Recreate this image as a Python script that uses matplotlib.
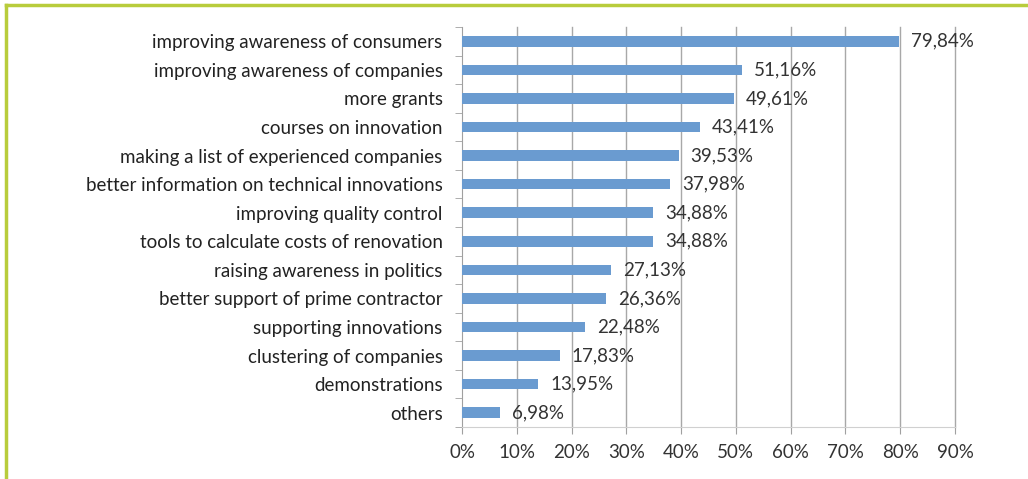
import numpy as np
import matplotlib
matplotlib.use('Agg')
import matplotlib.pyplot as plt

categorias = ['improving awareness of consumers', 'improving awareness of companies',
              'more grants', 'courses on innovation', 'making a list of experienced companies',
              'better information on technical innovations', 'improving quality control',
              'tools to calculate costs of renovation', 'raising awareness in politics',
              'better support of prime contractor', 'supporting innovations',
              'clustering of companies', 'demonstrations', 'others']
valores = [79.84, 51.16, 49.61, 43.41, 39.53, 37.98, 34.88, 34.88, 27.13, 26.36,
           22.48, 17.83, 13.95, 6.98]
ticks_x = [0, 10, 20, 30, 40, 50, 60, 70, 80, 90]

plt.rcParams['font.family'] = ['Lato', 'DejaVu Sans']
fs = 13.5

fig = plt.figure(figsize=(10.28, 4.79), dpi=100)
ax = fig.add_axes([462 / 1028, 1 - 427 / 479, (955 - 462) / 1028, (427 - 27) / 479])

y = np.arange(len(categorias))[::-1]
ax.barh(y, valores, height=0.37, color='#6a9bd0', zorder=3)
for yi, v in zip(y, valores):
    ax.text(v + 2.2, yi, '{:.2f}%'.format(v).replace('.', ','), va='center', ha='left',
            fontsize=fs, color='#333333', zorder=4)

ax.set_xlim(0, 90)
ax.set_ylim(-0.5, len(categorias) - 0.5)
ax.set_xticks(ticks_x)
ax.set_xticklabels(['{}%'.format(t) for t in ticks_x], fontsize=fs, color='#333333')
ax.set_yticks(y)
ax.set_yticklabels(categorias, fontsize=fs, color='#222222')
ax.set_yticks(np.arange(len(categorias) + 1) - 0.5, minor=True)
ax.tick_params(axis='y', which='major', length=0, pad=14)
ax.tick_params(axis='y', which='minor', length=5, color='#a0a0a0')
ax.tick_params(axis='x', length=5, color='#a0a0a0', pad=7)
for t in ticks_x[1:]:
    ax.axvline(t, color='#a8a8a8', linewidth=1, zorder=0, clip_on=False)
for s in ['top', 'right']:
    ax.spines[s].set_visible(False)
ax.spines['left'].set_color('#a0a0a0')
ax.spines['bottom'].set_color('#d0d0d0')

# marco verde
fig.add_artist(plt.Line2D([6 / 1028, 6 / 1028], [0, 1 - 5 / 479], color='#b8cc3c', linewidth=2.5))
fig.add_artist(plt.Line2D([6 / 1028, 1], [1 - 5 / 479, 1 - 5 / 479], color='#b8cc3c', linewidth=2.5))

fig.savefig('out.png', dpi=100)
